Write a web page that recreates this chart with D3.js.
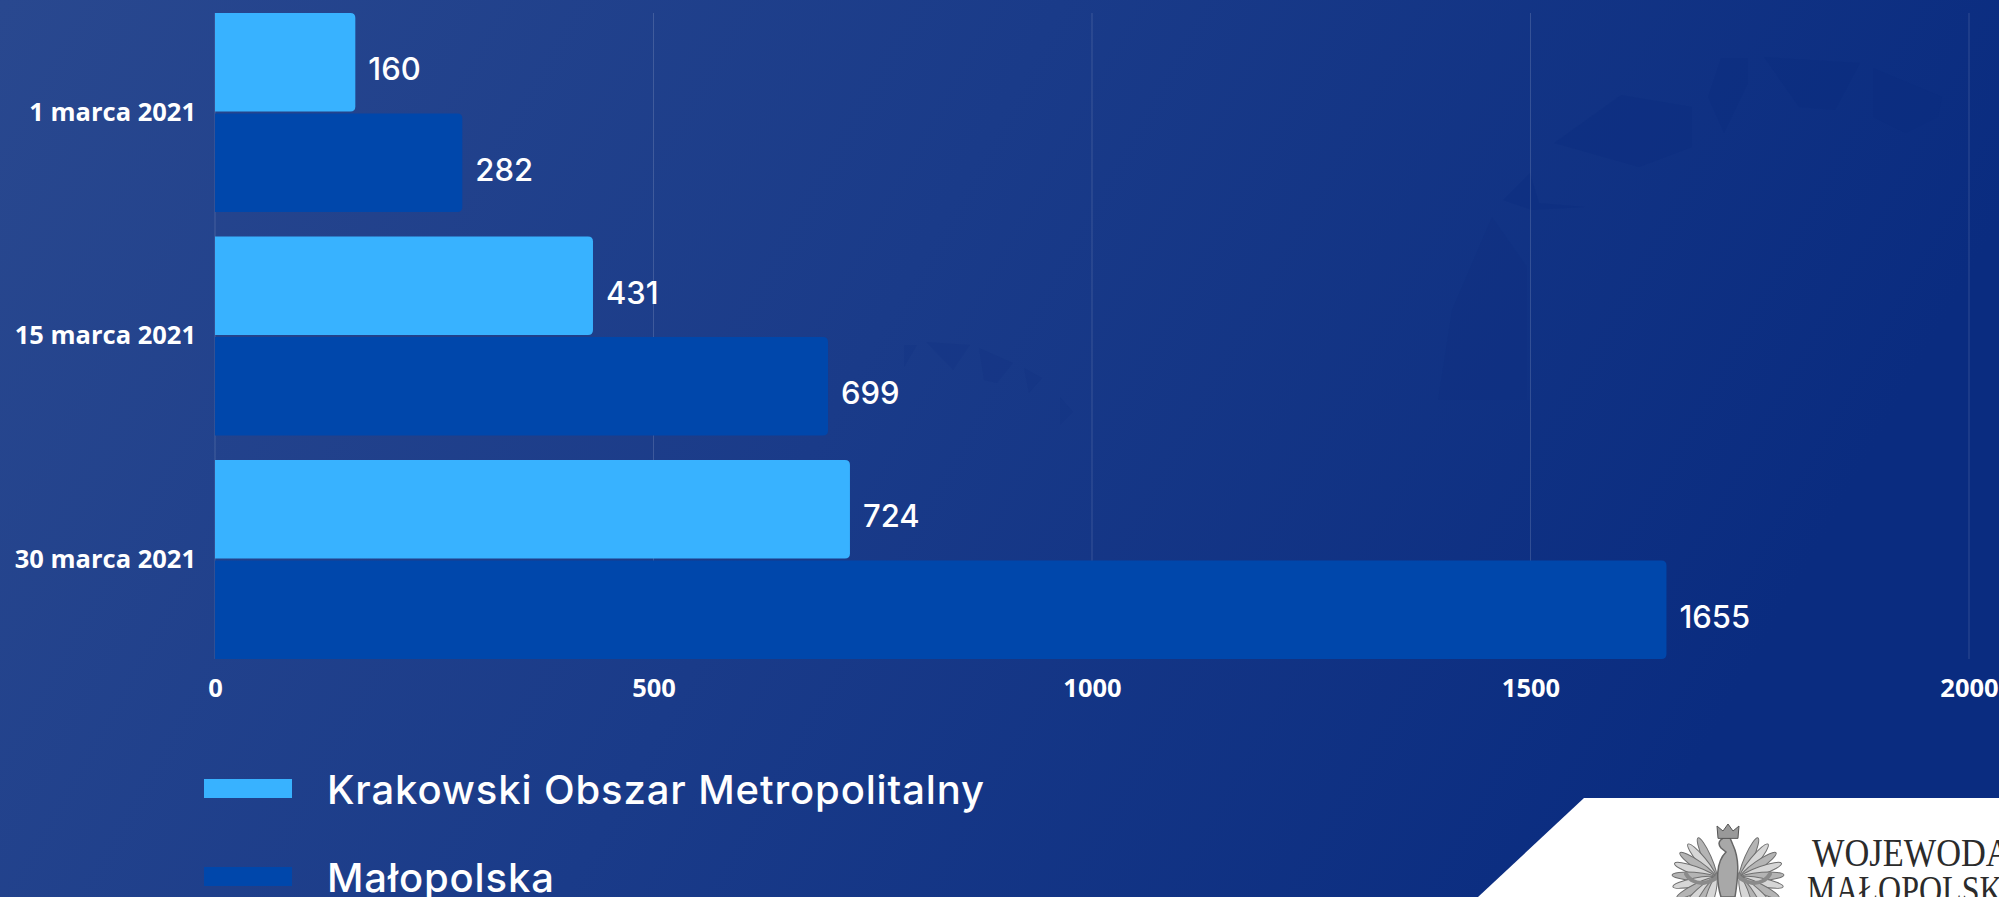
<!DOCTYPE html>
<html lang="pl">
<head>
<meta charset="utf-8">
<script src="https://cdn.jsdelivr.net/npm/d3@7"></script>
<style>
  html, body { margin: 0; padding: 0; background: #0b2d80; overflow: hidden; }
  .tick text { font-family: "Open Sans"; font-weight: 700; font-size: 25.5px; fill: #fff; }
</style>
</head>
<body>
<div id="chart"></div>
<script>
// values
var dates = ["1 marca 2021", "15 marca 2021", "30 marca 2021"];
var seriesNames = ["Krakowski Obszar Metropolitalny", "Małopolska"];
var krakow = [160, 431, 724];
var malopolska = [282, 699, 1655];
var xTicks = [0, 500, 1000, 1500, 2000];
var colors = ["#38b2ff", "#0047ab"];

var width = 1999, height = 897;
var margin = {top: 13, left: 215};
var plotWidth = 1754, plotHeight = 646;

var svg = d3.select("#chart").append("svg")
  .attr("width", width)
  .attr("height", height)
  .style("display", "block");

// background gradient
var defs = svg.append("defs");
var grad = defs.append("linearGradient")
  .attr("id", "bg")
  .attr("x1", "0").attr("y1", "0")
  .attr("x2", "1").attr("y2", "0.25");
grad.append("stop").attr("offset", "0").attr("stop-color", "#29488f");
grad.append("stop").attr("offset", "0.5").attr("stop-color", "#1a3b89");
grad.append("stop").attr("offset", "1").attr("stop-color", "#0a2c80");
svg.append("rect").attr("width", width).attr("height", height).attr("fill", "url(#bg)");

// faint map pieces behind the chart
var mapPieces = [
  "1554,143 1621,95 1692,107 1692,147 1639,167",
  "1721,58 1748,58 1748,83 1724,133 1708,97",
  "1764,57 1860,63 1835,110 1799,107",
  "1873,68 1942,97 1938,117 1906,133 1873,117",
  "1503,200 1530,173 1539,203 1585,207 1532,210",
  "1492,217 1527,267 1527,400 1438,400 1452,310",
  "926,342 970,345 953,370",
  "979,348 1013,363 997,383 984,380",
  "1024,368 1042,378 1029,393",
  "904,345 917,345 904,367",
  "1060,397 1073,412 1060,425"
];
svg.append("g").selectAll("polygon")
  .data(mapPieces)
  .enter()
  .append("polygon")
    .attr("points", function(d) { return d; })
    .attr("fill", "#0a2b7e")
    .attr("opacity", function(d, i) { return i < 5 ? 0.3 : 0.16; });

var g = svg.append("g")
  .attr("transform", "translate(" + margin.left + "," + margin.top + ")");

var x = d3.scaleLinear().domain([0, 2000]).range([0, plotWidth]);
var y = d3.scaleBand().domain(dates).range([0, plotHeight]).paddingInner(0.11).paddingOuter(0);
var y1 = d3.scaleBand().domain([0, 1]).range([0, y.bandwidth()]).paddingInner(0.02);

// grid
g.append("g").selectAll("line")
  .data(xTicks)
  .enter()
  .append("line")
    .attr("x1", function(d) { return x(d); })
    .attr("x2", function(d) { return x(d); })
    .attr("y1", 0)
    .attr("y2", plotHeight)
    .attr("stroke", "#fff")
    .attr("stroke-opacity", 0.15);

// axes
var xAxis = g.append("g")
  .attr("transform", "translate(0," + plotHeight + ")")
  .call(d3.axisBottom(x).tickValues(xTicks).tickFormat(d3.format("d")).tickSize(0).tickPadding(20));
xAxis.select(".domain").remove();

var yAxis = g.append("g")
  .call(d3.axisLeft(y).tickSize(0).tickPadding(19));
yAxis.select(".domain").remove();

// bar with rounded right end
function barPath(x1, top, h) {
  var r = 5;
  var p = d3.path();
  p.moveTo(0, top);
  p.lineTo(x1 - r, top);
  p.quadraticCurveTo(x1, top, x1, top + r);
  p.lineTo(x1, top + h - r);
  p.quadraticCurveTo(x1, top + h, x1 - r, top + h);
  p.lineTo(0, top + h);
  p.closePath();
  return p.toString();
}

[krakow, malopolska].forEach(function(values, s) {
  var series = g.append("g");
  series.selectAll("path")
    .data(values)
    .enter()
    .append("path")
      .attr("d", function(d, i) {
        return barPath(x(d), y(dates[i]) + y1(s), y1.bandwidth());
      })
      .attr("fill", colors[s]);
  series.selectAll("text")
    .data(values)
    .enter()
    .append("text")
      .attr("x", function(d) { return x(d) + 13; })
      .attr("y", function(d, i) { return y(dates[i]) + y1(s) + y1.bandwidth() / 2 + 7; })
      .attr("dy", "0.35em")
      .attr("font-family", "Inter")
      .attr("font-weight", 500)
      .attr("font-size", 31)
      .attr("fill", "#fff")
      .text(function(d) { return d; });
});

// legend
var legendY = [779, 867];
seriesNames.forEach(function(name, i) {
  svg.append("rect")
    .attr("x", 204).attr("y", legendY[i])
    .attr("width", 88).attr("height", 19)
    .attr("fill", colors[i]);
  svg.append("text")
    .attr("x", 327).attr("y", legendY[i] + 25)
    .attr("font-family", "Inter")
    .attr("font-weight", 500)
    .attr("font-size", 40)
    .attr("letter-spacing", 0.87)
    .attr("fill", "#fff")
    .text(name);
});

// logo block in the corner
svg.append("polygon")
  .attr("points", "1584,798 1999,798 1999,897 1478,897")
  .attr("fill", "#fff");

var eagle = svg.append("g")
  .attr("transform", "translate(1728,0)")
  .attr("stroke-linecap", "round");

[-1, 1].forEach(function(side) {
  var wing = eagle.append("g").attr("transform", "scale(" + side + ",1)");
  // feathers fan out of the shoulder
  d3.range(10).forEach(function(k) {
    var a = -1.15 + k * 0.27;
    wing.append("ellipse")
      .attr("cx", 22)
      .attr("cy", 0)
      .attr("rx", 22)
      .attr("ry", 4.2)
      .attr("transform", "translate(12,878) rotate(" + (a * 180 / Math.PI) + ")")
      .attr("fill", k % 2 ? "#d6d6d6" : "#b4b4b4")
      .attr("stroke", "#6f6f6f")
      .attr("stroke-width", 1);
  });
  wing.append("path")
    .attr("d", "M8,872 C12,884 34,888 42,874")
    .attr("fill", "none")
    .attr("stroke-width", 4)
    .attr("stroke", "#8a8a8a");
});
eagle.append("path")
  .attr("d", "M-7,848 C-12,842 -6,836 2,838 L5,845 C11,858 11,872 7,897 L-7,897 C-12,880 -12,862 -2,852 Z")
  .attr("fill", "#a8a8a8")
  .attr("stroke", "#666")
  .attr("stroke-width", 1.5);
eagle.append("path")
  .attr("d", "M-10,838 L-11,826 L-5,831 L0,824 L5,831 L11,826 L10,838 Z")
  .attr("fill", "#999")
  .attr("stroke", "#555")
  .attr("stroke-width", 1);

svg.append("text")
  .attr("transform", "translate(1812,866) scale(0.86,1)")
  .attr("font-family", "Liberation Serif")
  .attr("font-size", 40)
  .attr("fill", "#2b2b2b")
  .text("WOJEWODA");
svg.append("text")
  .attr("transform", "translate(1807,903) scale(0.8,1)")
  .attr("font-family", "Liberation Serif")
  .attr("font-size", 40)
  .attr("fill", "#2b2b2b")
  .text("MAŁOPOLSKI");
</script>
</body>
</html>
